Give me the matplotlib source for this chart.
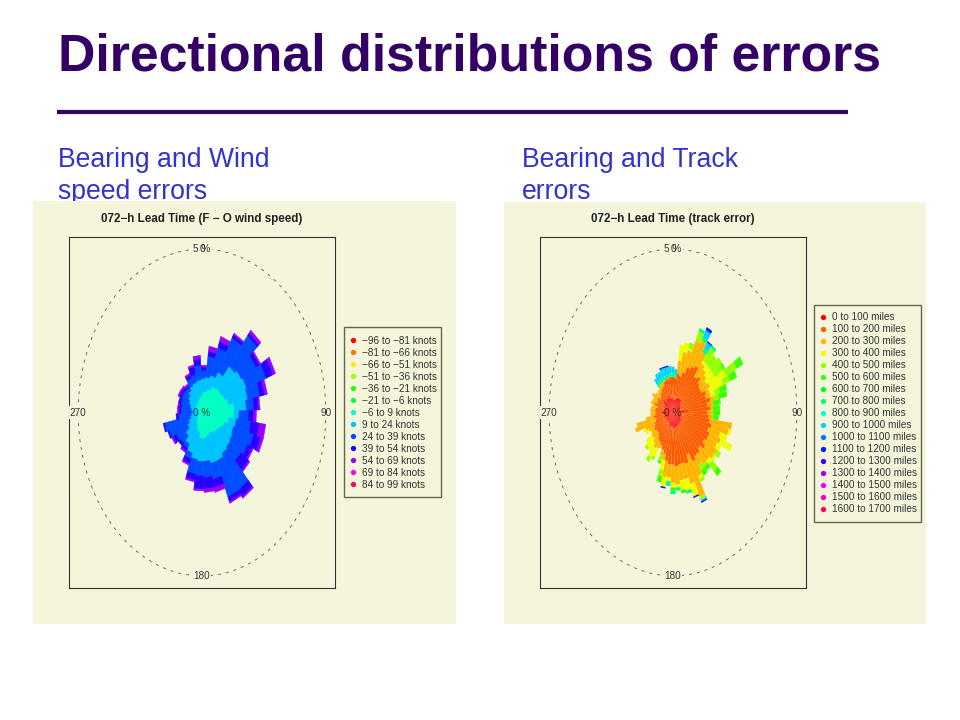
import colorsys
import numpy as np
import matplotlib
matplotlib.use("Agg")
import matplotlib.pyplot as plt
from matplotlib.lines import Line2D
from matplotlib.patches import Polygon, Rectangle

plt.rcParams["font.family"] = ["Liberation Sans", "DejaVu Sans"]

TITLE = "Directional distributions of errors"
LEFT_SUB = "Bearing and Wind\nspeed errors"
RIGHT_SUB = "Bearing and Track\nerrors"
LEFT_TITLE = "072\u2212h Lead Time (F \u2212 O wind speed)"
RIGHT_TITLE = "072\u2212h Lead Time (track error)"

wind_labels = ["\u221296 to \u221281 knots", "\u221281 to \u221266 knots", "\u221266 to \u221251 knots",
               "\u221251 to \u221236 knots", "\u221236 to \u221221 knots", "\u221221 to \u22126 knots",
               "\u22126 to 9 knots", "9 to 24 knots", "24 to 39 knots", "39 to 54 knots",
               "54 to 69 knots", "69 to 84 knots", "84 to 99 knots"]
track_labels = [f"{a} to {a + 100} miles" for a in range(0, 1700, 100)]

# Left rose: cumulative percent at each 10 degree bearing (0, 10, ... 350)
wind_core = [.6, .65, .75, .9, .95, .95, 1.0, 1.1, 1.3, 1.3, 1.1, .95, .85, .8, .75, .7, .75, .8,
             .8, .6, .5, .4, .3, .25, .2, .2, .15, .15, .15, .2, .25, .3, .3, .35, .4, .5]
wind_cyan = [1.05, 1.1, 1.2, 1.4, 1.8, 1.9, 1.95, 1.9, 1.8, 1.5, 1.4, 1.35, 1.4, 1.45, 1.5, 1.6, 1.6, 1.5,
             1.5, 1.45, 1.3, 1.1, .9, .7, .6, .5, .45, .4, .45, .5, .6, .7, .8, .9, .95, 1.0]
wind_blue = [1.3, 1.75, 2.1, 2.6, 3.0, 2.6, 2.8, 2.4, 2.1, 1.9, 2.0, 2.2, 2.1, 2.0, 2.8, 2.8, 2.1, 2.0,
             1.95, 1.9, 1.5, 1.25, 1.2, 1.25, 1.45, 1.55, .95, .85, .85, .9, .95, .95, .95, 1.15, 1.2, 1.45]
wind_dark = [1.4, 1.9, 2.3, 2.7, 3.1, 2.75, 3.1, 2.6, 2.3, 2.1, 2.35, 2.5, 2.3, 2.4, 3.05, 2.95, 2.35, 2.35,
             2.35, 2.1, 1.65, 1.35, 1.3, 1.4, 1.5, 1.6, 1.05, .95, .95, 1.0, 1.05, 1.05, 1.0, 1.25, 1.45, 1.65]
wind_purple = [1.45, 2.05, 2.45, 2.75, 3.2, 2.8, 3.2, 2.7, 2.35, 2.2, 2.6, 2.6, 2.35, 2.45, 3.1, 3.0, 2.5, 2.45,
               2.4, 2.15, 1.7, 1.4, 1.3, 1.45, 1.5, 1.6, 1.05, 1.0, 1.0, 1.0, 1.1, 1.1, 1.05, 1.3, 1.5, 1.75]

# Right rose: cumulative percent at each 5 degree bearing (0, 5, ... 355)
track_red = [.5, .4, .4, .4, .45, .5, .5, .5, .5, .4, .4, .35,
             .35, .35, .3, .3, .3, .6, .3, .3, .3, .3, .35, .35,
             .35, .4, .4, .4, .4, .45, .4, .45, .45, .5, .5, .5,
             .5, .45, .4, .5, .4, .35, .35, .3, .35, .4, .3, .35,
             .3, .3, .4, .35, .3, .4, .45, .3, .4, .3, .35, .4,
             .3, .4, .5, .55, .4, .45, .5, .45, .55, .45, .5, .45]
track_orange = [1.1, 1.05, 1.2, 1.15, 1.3, 1.5, 1.6, 1.7, 1.4, 1.5, 1.35, 1.3,
                1.3, 1.45, 1.4, 1.55, 1.4, 1.5, 1.4, 1.45, 1.5, 1.6, 1.5, 1.6,
                1.6, 1.5, 1.65, 1.5, 1.6, 1.6, 1.7, 1.4, 1.65, 1.6, 1.6, 1.65,
                1.6, 1.6, 1.5, 1.3, 1.2, 1.1, 1.05, 1.0, .9, .85, .85, .9,
                .85, .8, .75, .7, .8, .75, .7, .75, .7, .65, .8, .7,
                .7, .75, .65, .7, .75, .8, .85, .9, 1.0, 1.05, 1.05, 1.1]
track_amber = [1.1, 1.05, 1.6, 1.9, 2.0, 2.4, 2.5, 2.2, 1.9, 1.8, 1.7, 1.6,
               1.7, 1.6, 1.6, 1.7, 1.65, 1.6, 1.6, 1.6, 2.4, 2.3, 2.0, 2.1,
               2.0, 2.1, 2.1, 2.0, 2.0, 1.9, 2.2, 2.8, 2.3, 2.1, 2.1, 2.2,
               2.15, 2.0, 2.0, 1.5, 1.4, 1.2, 1.25, 1.3, 1.2, 1.1, 1.1, 1.05,
               1.1, 1.2, 1.6, 1.5, 1.1, .9, .9, .9, .9, .85, .95, .9,
               .9, 1.0, .9, .85, .9, .95, 1.0, 1.0, 1.05, 1.05, 1.05, 1.1]
# Outer bands: width in percent, keyed by bearing
track_yellow = {10: .5, 15: .3, 20: .05, 40: .1, 45: .2, 50: .3, 55: .4, 60: .7, 65: .6, 70: .2,
                105: .1, 110: .3, 115: .5, 120: .2, 130: .1, 135: .15, 150: .1, 160: .4, 165: .35, 170: .3,
                175: .1, 180: .15, 185: .1, 190: .3, 195: .3, 210: .3, 215: .35, 220: .3, 225: .35, 230: .3,
                240: .15, 245: .1, 275: .05}
track_lime = {20: .2, 25: .3, 40: .5, 45: .4, 50: .5, 55: .4, 60: .5, 65: .3, 70: .2, 75: .2, 125: .2, 135: .3,
              140: .1, 145: .2, 150: .1, 155: .1, 195: .2, 200: .15, 210: .1, 215: .15, 225: .1}
track_green = {55: .1, 60: .3, 65: .3, 70: .3, 75: .35, 80: .3, 85: .3, 90: .3, 95: .25, 135: .2, 140: .15,
               145: .2, 170: .1, 180: .1, 195: .2, 200: .1}
track_teal = {25: .1, 30: .1, 35: .15, 40: .1, 165: .1, 175: .1, 180: .1, 185: .1,
              325: .1, 330: .1, 335: .1, 340: .1, 345: .1, 350: .1, 355: .1, 0: .1, 5: .1}
track_cyan = {30: .25, 35: .2, 155: .05, 185: .05, 325: .2, 330: .25, 335: .25, 340: .25, 345: .25, 350: .25,
              355: .22, 0: .2, 5: .18}
track_blue = {30: .1, 35: .05, 155: .05, 160: .05, 190: .05, 340: .05, 345: .05, 350: .05}


def rainbow(n):
    return [colorsys.hsv_to_rgb(i / n, 1, 1) for i in range(n)]


def px_axes(fig, x0, y0, x1, y1, **kw):
    return fig.add_axes([x0 / 960, 1 - y1 / 720, (x1 - x0) / 960, (y1 - y0) / 720], **kw)


def wedge(ax, bearing, width, r0, r1, color, lw=0.0):
    if r1 <= r0:
        return
    t = np.radians([bearing - width / 2, bearing + width / 2])
    xy = np.r_[np.c_[r1 * np.sin(t), r1 * np.cos(t)], np.c_[r0 * np.sin(t[::-1]), r0 * np.cos(t[::-1])]]
    ax.add_patch(Polygon(xy, closed=True, facecolor=color, edgecolor=color if lw else "none", linewidth=lw, zorder=2))


def rose_axes(fig, x0, title):
    bg = "#F5F5DC"
    ax = px_axes(fig, x0, 237, x0 + 266, 588, facecolor=bg, zorder=3)
    ax.set_xlim(-5.37, 5.37)
    ax.set_ylim(-5.37, 5.37)
    ax.set_xticks([])
    ax.set_yticks([])
    for s in ax.spines.values():
        s.set_linewidth(0.8)
        s.set_color("#333333")
    t = np.linspace(0, 2 * np.pi, 300)
    ax.plot(5 * np.cos(t), 5 * np.sin(t), color="#555555", lw=0.6, ls=(0, (3.6, 6)), zorder=1)
    box = dict(facecolor=bg, edgecolor="none", pad=0.8)
    kw = dict(ha="center", va="center", fontsize=7.2, color="#333333", bbox=box, zorder=3)
    ax.text(0, 5.0, "5 %", **kw)
    ax.text(0.03, 5.0, "0", ha="center", va="center", fontsize=7.2, color="#333333", zorder=4)
    ax.text(5, 0, "90", **kw)
    ax.text(-5, 0, "270", **kw)
    ax.text(0, -5, "180", **kw)
    ax.text(0, 0, "0 %", ha="center", va="center", fontsize=7.2, color="#222222", alpha=.8, zorder=5)
    fig.text((x0 + 133) / 960, 1 - 219 / 720, title, ha="center", va="center",
             fontsize=8.4, fontweight="bold", color="#222222", zorder=5)
    return ax


def add_legend(fig, box, marker_x, top_y, labels, colors):
    x0, y0, x1, y1 = box
    fig.add_artist(Rectangle((x0 / 960, 1 - y1 / 720), (x1 - x0) / 960, (y1 - y0) / 720, transform=fig.transFigure,
                             facecolor="#F5F5DC", edgecolor="#66664d", linewidth=1.0, zorder=2))
    handles = [Line2D([], [], ls="none", marker="o", ms=2.8, color=c) for c in colors]
    lg = fig.legend(handles, labels, loc="upper left", bbox_to_anchor=(marker_x / 960, 1 - top_y / 720),
                    fontsize=7.2, frameon=False, borderaxespad=0, borderpad=0, labelspacing=0.2,
                    handlelength=0, handletextpad=0.95, labelcolor="#333333")
    lg.set_zorder(6)


fig = plt.figure(figsize=(9.6, 7.2), dpi=100, facecolor="white")

fig.text(58 / 960, 1 - 57 / 720, TITLE, fontsize=37.35, fontweight="bold", color="#330066", va="center", ha="left")
fig.add_artist(Line2D([57 / 960, 848 / 960], [1 - 112 / 720] * 2, color="#330066", lw=3, solid_capstyle="butt"))
fig.text(58 / 960, 1 - 176 / 720, LEFT_SUB, fontsize=19.2, color="#3333CC", va="center", ha="left", linespacing=1.32, zorder=0)
fig.text(522 / 960, 1 - 176 / 720, RIGHT_SUB, fontsize=19.2, color="#3333CC", va="center", ha="left", linespacing=1.32, zorder=0)

for x0, x1, y0 in [(33, 456, 201), (504, 926, 202)]:
    fig.add_artist(Rectangle((x0 / 960, 1 - 624 / 720), (x1 - x0) / 960, (624 - y0) / 720,
                             transform=fig.transFigure, facecolor="#F5F5DC", edgecolor="none", zorder=1))

# Left rose
ax = rose_axes(fig, 69, LEFT_TITLE)
wcol = rainbow(13)
wind_bands = [(wind_core, wcol[6]), (wind_cyan, wcol[7]), (wind_blue, wcol[8]), (wind_dark, wcol[9]), (wind_purple, wcol[10])]
for i, b in enumerate(range(0, 360, 10)):
    r0 = 0
    for vals, c in wind_bands:
        wedge(ax, b + 3, 10, r0, vals[i], c, lw=0.4)
        r0 = max(r0, vals[i])
add_legend(fig, (344, 327, 441, 497), 353, 335.5, wind_labels, wcol)

# Right rose
ax = rose_axes(fig, 540, RIGHT_TITLE)
tcol = rainbow(17)
outer = [(track_yellow, tcol[3]), (track_lime, tcol[4]), (track_green, tcol[5]),
         (track_teal, tcol[7]), (track_cyan, tcol[9]), (track_blue, tcol[11])]
for i, b in enumerate(range(0, 360, 5)):
    r0 = 0
    for v, c in zip((track_red[i], track_orange[i], track_amber[i]), (tcol[0], tcol[1], tcol[2])):
        wedge(ax, b, 4.9, r0, v, c)
        r0 = v
    for d, c in outer:
        w = d.get(b, 0)
        wedge(ax, b, 4.9, r0, r0 + w, c)
        r0 += w
add_legend(fig, (814, 305, 921, 522), 823, 312.2, track_labels, tcol)

fig.savefig("out.png", dpi=100)
